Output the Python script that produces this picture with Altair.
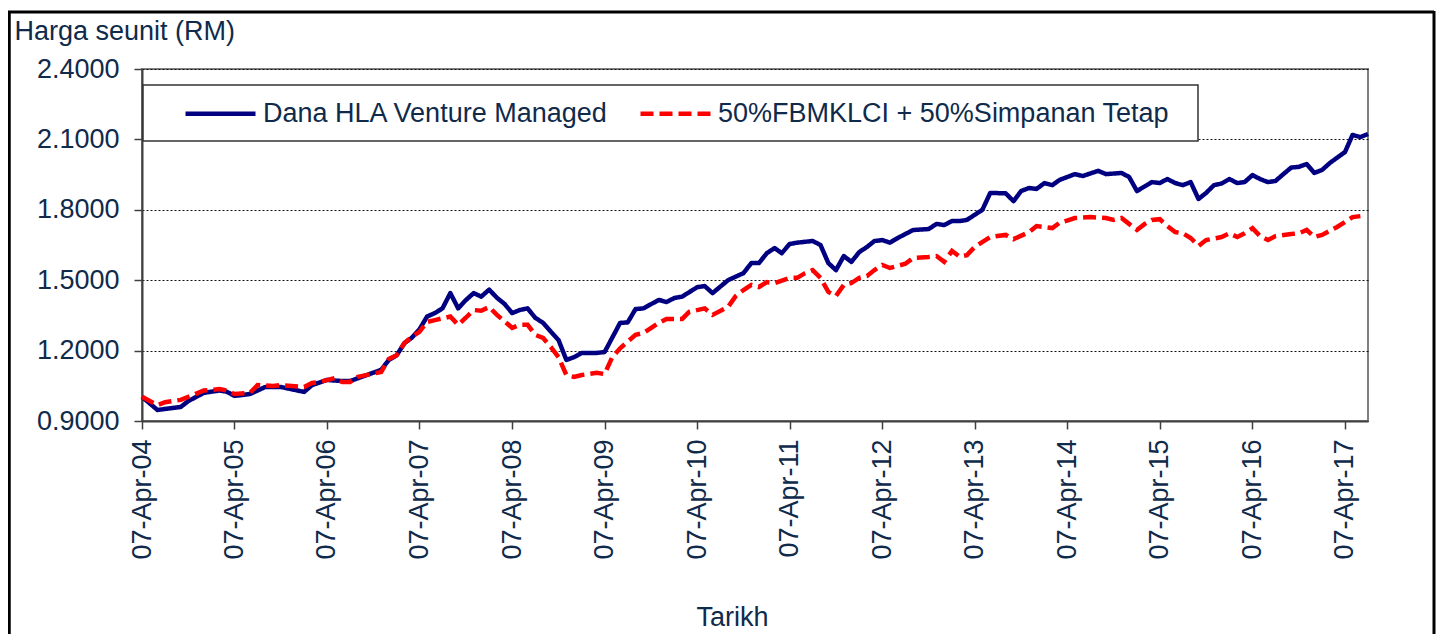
import altair as alt
import pandas as pd

# Month offsets from 07-Apr-2004 and unit prices (RM)
blue_name = "Dana HLA Venture Managed"
red_name = "50%FBMKLCI + 50%Simpanan Tetap"

blue_months = [0, 2, 5, 6, 8, 10, 11, 12, 14, 16, 18, 21, 22, 24, 26, 27, 31, 32, 33, 34, 35, 36, 37, 38, 39,
               40, 41, 42, 43, 44, 45, 46, 47, 48, 49, 50, 51, 52, 53, 54, 55, 56, 57, 59, 60, 62, 63, 64, 65,
               67, 68, 69, 70, 72, 73, 74, 76, 78, 79, 80, 81, 82, 83, 84, 85, 87, 88, 89, 90, 91, 92, 93, 94,
               95, 96, 97, 98, 100, 102, 103, 104, 105, 106, 107, 109, 110, 112, 113, 114, 115, 116, 117, 118,
               119, 121, 122, 124, 125, 127, 128, 129, 130, 131, 132, 133, 134, 135, 136, 137, 138, 139, 140,
               141, 142, 143, 144, 145, 146, 147, 148, 149, 150, 151, 152, 153, 154, 156, 157, 158, 159]
blue_values = [1.003, 0.947, 0.960, 0.985, 1.020, 1.030, 1.025, 1.007, 1.015, 1.045, 1.045, 1.024, 1.053, 1.075,
               1.070, 1.070, 1.118, 1.160, 1.180, 1.232, 1.254, 1.290, 1.345, 1.360, 1.380, 1.445, 1.380, 1.415,
               1.445, 1.430, 1.460, 1.425, 1.400, 1.360, 1.373, 1.380, 1.340, 1.318, 1.280, 1.245, 1.160, 1.172,
               1.190, 1.190, 1.194, 1.318, 1.320, 1.377, 1.380, 1.416, 1.407, 1.424, 1.430, 1.470, 1.475, 1.445,
               1.500, 1.530, 1.573, 1.573, 1.615, 1.637, 1.615, 1.654, 1.660, 1.667, 1.650, 1.573, 1.543, 1.603,
               1.578, 1.620, 1.642, 1.667, 1.671, 1.660, 1.680, 1.714, 1.718, 1.740, 1.735, 1.752, 1.752, 1.757,
               1.800, 1.872, 1.870, 1.837, 1.880, 1.893, 1.889, 1.914, 1.905, 1.927, 1.952, 1.944, 1.966, 1.952,
               1.957, 1.940, 1.880, 1.900, 1.918, 1.914, 1.931, 1.914, 1.905, 1.918, 1.846, 1.872, 1.905, 1.912,
               1.931, 1.914, 1.918, 1.948, 1.931, 1.918, 1.923, 1.952, 1.980, 1.983, 1.995, 1.957, 1.970, 2.000,
               2.046, 2.119, 2.110, 2.123]

red_months = [0, 2, 3, 5, 6, 8, 10, 11, 12, 14, 15, 17, 18, 21, 22, 23, 25, 26, 27, 28, 31, 32, 33, 34, 35, 36,
              37, 38, 40, 41, 42, 43, 44, 45, 46, 48, 49, 50, 51, 52, 53, 54, 55, 56, 57, 59, 60, 61, 62, 64, 65,
              67, 68, 70, 71, 73, 74, 76, 77, 78, 79, 80, 81, 82, 84, 85, 86, 87, 88, 89, 90, 91, 92, 93, 94, 95,
              96, 97, 99, 100, 102, 103, 104, 105, 106, 107, 108, 110, 112, 113, 115, 116, 118, 119, 121, 123,
              125, 126, 127, 128, 129, 130, 131, 132, 133, 134, 135, 136, 137, 138, 140, 141, 142, 143, 144, 145,
              146, 147, 149, 150, 151, 152, 153, 155, 156, 157, 158]
red_values = [1.003, 0.968, 0.980, 0.990, 1.003, 1.030, 1.036, 1.030, 1.015, 1.020, 1.053, 1.049, 1.053, 1.045,
              1.062, 1.066, 1.083, 1.066, 1.066, 1.088, 1.109, 1.164, 1.180, 1.232, 1.258, 1.280, 1.322, 1.330,
              1.345, 1.310, 1.340, 1.373, 1.370, 1.386, 1.352, 1.297, 1.310, 1.310, 1.267, 1.254, 1.215, 1.172,
              1.096, 1.088, 1.096, 1.105, 1.100, 1.172, 1.210, 1.267, 1.275, 1.318, 1.335, 1.335, 1.365, 1.380,
              1.352, 1.386, 1.433, 1.458, 1.480, 1.471, 1.492, 1.488, 1.510, 1.510, 1.530, 1.543, 1.510, 1.450,
              1.433, 1.480, 1.488, 1.510, 1.518, 1.543, 1.565, 1.552, 1.570, 1.595, 1.599, 1.603, 1.578, 1.625,
              1.600, 1.607, 1.642, 1.684, 1.693, 1.675, 1.705, 1.731, 1.722, 1.744, 1.765, 1.769, 1.765, 1.757,
              1.765, 1.740, 1.714, 1.740, 1.757, 1.760, 1.731, 1.705, 1.700, 1.680, 1.646, 1.671, 1.684, 1.700,
              1.684, 1.700, 1.722, 1.688, 1.671, 1.688, 1.697, 1.700, 1.714, 1.684, 1.693, 1.727, 1.748, 1.769,
              1.773]

tick_years = list(range(2004, 2018))
y_ticks = [0.9, 1.2, 1.5, 1.8, 2.1, 2.4]


def month_to_date(m):
    total = 3 + m  # April 2004 = month index 3 (0-based)
    year = 2004 + total // 12
    month = total % 12 + 1
    return f"{year:04d}-{month:02d}-07"


blue_df = pd.DataFrame({"date": [month_to_date(m) for m in blue_months],
                        "price": blue_values, "series": blue_name})
red_df = pd.DataFrame({"date": [month_to_date(m) for m in red_months],
                       "price": red_values, "series": red_name})

FONT = "Liberation Sans"
TXT = "#0f2a4a"
FS = 27

legend = alt.Legend(
    title=None, orient="none", direction="horizontal", legendX=41, legendY=7,
    symbolType="stroke", symbolSize=4900, symbolStrokeWidth=4.5,
    labelFontSize=FS, labelFont=FONT, labelColor=TXT, labelOffset=5,
    labelLimit=0, columnPadding=22, padding=0, fillColor="transparent",
)
color = alt.Color("series:N",
                  scale=alt.Scale(domain=[blue_name, red_name], range=["#000080", "#ff0000"]),
                  legend=legend)
dash = alt.StrokeDash("series:N",
                      scale=alt.Scale(domain=[blue_name, red_name], range=[[1, 0], [13, 6]]),
                      legend=legend)

x_enc = alt.X(
    "date:T",
    scale=alt.Scale(type="utc",
                    domain=[alt.DateTime(year=2004, month=4, date=7, utc=True),
                            alt.DateTime(year=2017, month=7, date=7, utc=True)]),
    axis=alt.Axis(
        values=[alt.DateTime(year=y, month=4, date=7, utc=True) for y in tick_years],
        format="%d-%b-%y", labelAngle=-90, labelAlign="right", labelBaseline="middle",
        labelPadding=10, labelFontSize=FS, labelFont=FONT, labelColor=TXT,
        tickSize=8, tickColor="#404040", tickWidth=1.5, domainColor="#404040", domainWidth=2,
        grid=False, title="Tarikh", titleFontSize=FS, titleFont=FONT, titleColor=TXT,
        titleFontWeight="normal", titleX=590, titleY=204, titleAnchor="start", titleAlign="center",
        titleBaseline="alphabetic", labelOverlap=False,
    ),
)
y_enc = alt.Y(
    "price:Q",
    scale=alt.Scale(domain=[0.9, 2.4], zero=False, nice=False),
    axis=alt.Axis(
        values=y_ticks, format=".4f", labelFontSize=FS, labelFont=FONT, labelColor=TXT,
        labelPadding=15, tickSize=8, tickColor="#404040", tickWidth=1.5,
        domainColor="#404040", domainWidth=2,
        grid=True, gridColor="#111111", gridDash=[2, 2], gridWidth=1,
        title="Harga seunit (RM)", titleAngle=0, titleAlign="left", titleBaseline="alphabetic",
        titleX=-128, titleY=-30, titleFontSize=FS, titleFont=FONT, titleColor=TXT,
        titleFontWeight="normal", labelOverlap=False,
    ),
)

blue_line = alt.Chart(blue_df).mark_line(strokeWidth=4.5, strokeJoin="round").encode(
    x=x_enc, y=y_enc, color=color, strokeDash=dash)
red_line = alt.Chart(red_df).mark_line(strokeWidth=4.5, strokeCap="butt").encode(
    x=alt.X("date:T"), y=alt.Y("price:Q"), color=color, strokeDash=dash)

one = pd.DataFrame({"k": [0]})
legend_box = alt.Chart(one).mark_rect(fill="white", stroke="#333333", strokeWidth=1.5).encode(
    x=alt.value(1), x2=alt.value(1056), y=alt.value(16), y2=alt.value(72))
frame_left = alt.Chart(one).mark_rule(color="black", strokeWidth=3.5).encode(
    x=alt.value(-133), y=alt.value(-58), y2=alt.value(570))
frame_top = alt.Chart(one).mark_rule(color="black", strokeWidth=3).encode(
    x=alt.value(-134), x2=alt.value(1292), y=alt.value(-57))
frame_right = alt.Chart(one).mark_rule(color="black", strokeWidth=3).encode(
    x=alt.value(1292), y=alt.value(-58), y2=alt.value(570))

chart = alt.layer(blue_line, red_line, legend_box, frame_left, frame_top, frame_right).properties(
    width=1226, height=352,
    autosize=alt.AutoSizeParams(type="none"),
    padding={"left": 134, "top": 61, "right": 68, "bottom": 213},
    background="white",
).configure_view(stroke="#808080", strokeWidth=2).resolve_scale(color="shared")

chart.save("out.html", embed_options={"renderer": "svg", "actions": False})
